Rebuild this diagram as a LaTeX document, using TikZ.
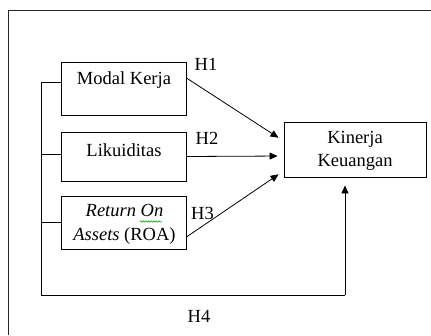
\documentclass[tikz,border=0pt]{standalone}
\usepackage{fontspec}
\setmainfont{Liberation Serif}
\usetikzlibrary{arrows.meta,decorations.pathmorphing}
\begin{document}
\begin{tikzpicture}[x=1pt,y=-1pt,
  box/.style={draw,line width=0.9pt,inner sep=0pt},
  txt/.style={font=\fontsize{18.5}{23.5}\selectfont,inner sep=0pt,align=center},
  conn/.style={line width=0.8pt},
  arr/.style={line width=0.8pt,-{Triangle[length=8pt,width=7pt]}}]
\useasboundingbox (0,0) rectangle (431,335);
% frame
\draw[line width=0.9pt,black!85] (8,335) -- (8,10) -- (431,10);
% boxes
\node[box,minimum width=125pt,minimum height=53pt] (mk) at (123.5,88.5) {};
\node[box,minimum width=125pt,minimum height=49pt] (li) at (123.5,156.5) {};
\node[box,minimum width=125pt,minimum height=53pt] (roa) at (123.5,222.5) {};
\node[box,minimum width=142pt,minimum height=55pt] (kk) at (355,149.5) {};
% texts
\node[txt] (tmk) at (124,80) {Modal Kerja};
\node[txt] (tli) at (124,150) {Likuiditas};
\node[txt] (troa) at (124.5,224.5) {\textit{Return On}\\\textit{Assets} (ROA)};
\node[txt] (tkk) at (355,151) {Kinerja\\Keuangan};
% spell-check squiggle
\draw[green!60!black,line width=0.5pt,decorate,decoration={snake,amplitude=0.8pt,segment length=2.6pt}] (140,221.5) -- (162,221.5);
% hypothesis labels
\node[txt] (h1) at (206,64) {H1};
\node[txt] (h2) at (207,138) {H2};
\node[txt] (h3) at (202.5,213) {H3};
\node[txt] (h4) at (199,316) {H4};
% arrows H1-H3
\draw[arr,shorten >=6pt] ([yshift=10.5pt]mk.east) -- ([yshift=8.5pt]kk.west);
\draw[arr,shorten >=6pt] (li.east) -- ([yshift=-6.5pt]kk.west);
\draw[arr,shorten >=6pt] ([yshift=-14.5pt]roa.east) -- ([yshift=-21.5pt]kk.west);
% H4 bus
\coordinate (bt) at (41,82);
\coordinate (bm) at (41,154);
\coordinate (br) at (41,222);
\coordinate (bb) at (41,295);
\coordinate (cr) at (345,295);
\draw[conn] (bt) -- (mk.west |- bt);
\draw[conn] (bm) -- (li.west |- bm);
\draw[conn] (br) -- (roa.west |- br);
\draw[conn] (bt) -- (bb) -- (cr);
\draw[arr,shorten >=8pt] (cr) -- ([xshift=-10pt]kk.south);
\end{tikzpicture}
\end{document}
